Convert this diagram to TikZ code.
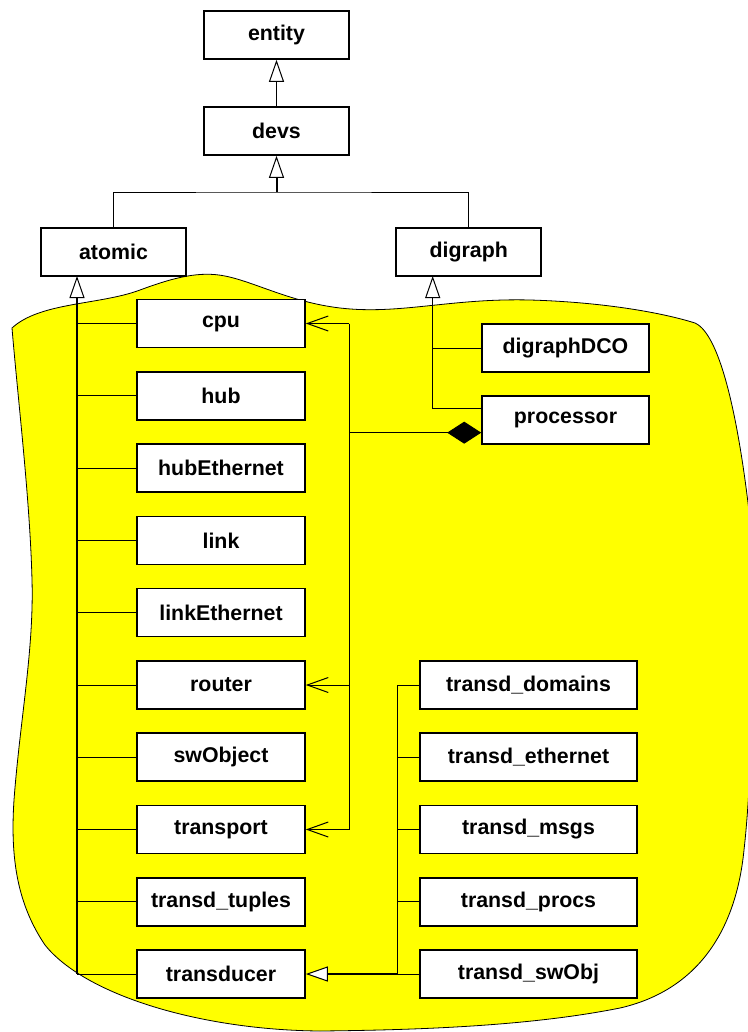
\documentclass[tikz,border=0pt]{standalone}
\usepackage{fontspec}
\setmainfont{Liberation Sans}
\usetikzlibrary{arrows.meta}

\definecolor{blobyellow}{RGB}{255,255,0}

\tikzset{
  cls/.style={draw, fill=white, line width=1.2pt, minimum height=36pt, inner sep=0pt, font=\bfseries\fontsize{16}{18}\selectfont},
  topcls/.style={cls, minimum width=108.75pt},
  leftcls/.style={cls, minimum width=126pt},
  dgcls/.style={cls, minimum width=125.25pt},
  tdcls/.style={cls, minimum width=162.75pt},
  lnk/.style={line width=0.75pt},
  inh/.style={lnk, -{Triangle[length=16.5pt, width=11.25pt, fill=white, line width=0.75pt]}},
  nav/.style={lnk, -{Straight Barb[length=15.75pt, width=11.25pt]}},
  comp/.style={lnk, {Diamond[length=25.5pt, width=16.5pt]}-},
}

\begin{document}
\begin{tikzpicture}[x=0.75pt,y=0.75pt,yscale=-1,xscale=1]
\useasboundingbox (0,0) rectangle (748,1032);

%Shape: Cloud [yellow]
\draw[fill=blobyellow, line width=0.6pt] (12,328) .. controls (40,302) and (100,305) .. (140,290) .. controls (175,277) and (200,271) .. (225,276) .. controls (255,282) and (290,302) .. (340,308) .. controls (400,315) and (450,298) .. (530,300) .. controls (600,302) and (660,312) .. (695,323) .. controls (722,335) and (740,430) .. (750,520) .. controls (755,650) and (752,780) .. (744,850) .. controls (735,940) and (690,992) .. (620,1008) .. controls (530,1026) and (420,1030) .. (320,1031) .. controls (200,1030) and (85,995) .. (45,945) .. controls (18,905) and (10,860) .. (14,800) .. controls (20,720) and (34,650) .. (32,580) .. controls (30,500) and (18,400) .. (12,328) -- cycle;

% Class boxes
\node[topcls] (entity) at (276.5,35) {entity};
\node[topcls] (devs) at (276.5,131) {devs};
\node[topcls] (atomic) at (113.5,252) {atomic};
\node[topcls] (digraph) at (468.7,252) {digraph};

\node[leftcls] (cpu) at (221,323.5) {cpu};
\node[leftcls] (hub) at (221,395.8) {hub};
\node[leftcls] (hubeth) at (221,468) {hubEthernet};
\node[leftcls] (link) at (221,540.3) {link};
\node[leftcls] (linketh) at (221,612.6) {linkEthernet};
\node[leftcls] (router) at (221,685) {router};
\node[leftcls] (swobj) at (221,757.2) {swObject};
\node[leftcls] (transport) at (221,829.5) {transport};
\node[leftcls] (ttuples) at (221,901.8) {transd\_tuples};
\node[leftcls] (transducer) at (221,974) {transducer};

\node[dgcls] (dco) at (565.5,348) {digraphDCO};
\node[dgcls] (proc) at (565.5,420) {processor};

\node[tdcls] (tdomains) at (528.5,685) {transd\_domains};
\node[tdcls] (tether) at (528.5,757.2) {transd\_ethernet};
\node[tdcls] (tmsgs) at (528.5,829.5) {transd\_msgs};
\node[tdcls] (tprocs) at (528.5,901.8) {transd\_procs};
\node[tdcls] (tswobj) at (528.5,974) {transd\_swObj};

% Bends
\coordinate (bus) at (276.5,192);
\coordinate (aspine) at (77,276);
\coordinate (dspine) at (432.7,276);
\coordinate (cbus) at (349,432.7);
\coordinate (tspine) at (397,685);

% Top hierarchy
\draw[inh] (devs.north) -- (entity.south);
\draw[lnk] (atomic.north) |- (bus) -| (digraph.north);
\draw[inh, line width=1.5pt] (bus) -- (devs.south);

% atomic subclasses
\draw[inh, line width=1.5pt] (transducer.west -| aspine) -- (aspine);
\draw[lnk] (cpu.west) -- (cpu.west -| aspine);
\draw[lnk] (hub.west) -- (hub.west -| aspine);
\draw[lnk] (hubeth.west) -- (hubeth.west -| aspine);
\draw[lnk] (link.west) -- (link.west -| aspine);
\draw[lnk] (linketh.west) -- (linketh.west -| aspine);
\draw[lnk] (router.west) -- (router.west -| aspine);
\draw[lnk] (swobj.west) -- (swobj.west -| aspine);
\draw[lnk] (transport.west) -- (transport.west -| aspine);
\draw[lnk] (ttuples.west) -- (ttuples.west -| aspine);
\draw[lnk] (transducer.west) -- (transducer.west -| aspine);

% digraph subclasses
\draw[inh] ([yshift=-9pt]proc.west) -| (dspine);
\draw[lnk] (dco.west) -- (dco.west -| dspine);

% processor composition
\draw[comp] ([yshift=9.5pt]proc.west) -- ([yshift=9.5pt]proc.west -| cbus);
\draw[lnk] (cpu.east -| cbus) -- (transport.east -| cbus);
\draw[nav] (cpu.east -| cbus) -- (cpu.east);
\draw[nav] (router.east -| cbus) -- (router.east);
\draw[nav] (transport.east -| cbus) -- (transport.east);

% transducer subclasses
\draw[lnk] (tdomains.west) -- (tdomains.west -| tspine) -- (tswobj.west -| tspine) -- (tswobj.west);
\draw[lnk] (tether.west) -- (tether.west -| tspine);
\draw[lnk] (tmsgs.west) -- (tmsgs.west -| tspine);
\draw[lnk] (tprocs.west) -- (tprocs.west -| tspine);
\draw[inh, line width=1.5pt] (tswobj.west -| tspine) -- (transducer.east);
\end{tikzpicture}
\end{document}
